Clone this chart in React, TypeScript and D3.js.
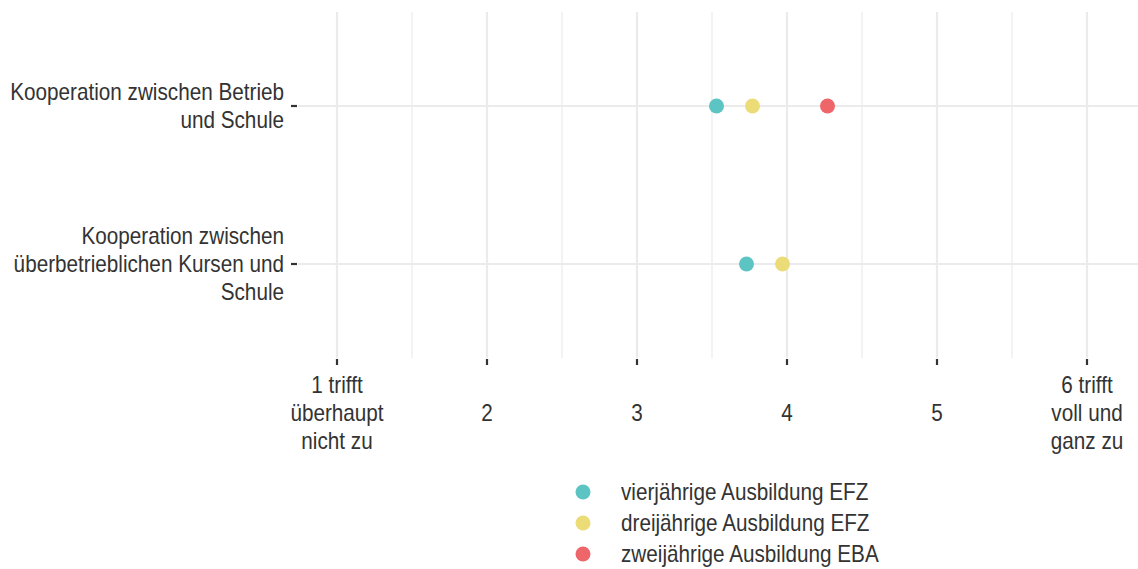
import React, { useEffect, useRef } from 'react';
import * as d3 from 'd3';

const items = [
  ['Kooperation zwischen Betrieb', 'und Schule'],
  ['Kooperation zwischen', 'überbetrieblichen Kursen und', 'Schule'],
];
const series = ['vierjährige Ausbildung EFZ', 'dreijährige Ausbildung EFZ', 'zweijährige Ausbildung EBA'];
const colors = ['#5dc4c4', '#ecdc78', '#ee6669'];
const values: (number | null)[][] = [
  [3.53, 3.77, 4.27],
  [3.73, 3.97, null],
];
const xTicks = [1, 2, 3, 4, 5, 6];
const xTickLabels = [['1 trifft', 'überhaupt', 'nicht zu'], ['2'], ['3'], ['4'], ['5'], ['6 trifft', 'voll und', 'ganz zu']];

const App: React.FC = () => {
  const svgRef = useRef<SVGSVGElement | null>(null);

  useEffect(() => {
    if (!svgRef.current) return;
    const width = 1138;
    const height = 569;
    const panel = { left: 298, right: 1138, top: 12, bottom: 358 };
    const font = '"Liberation Sans", Arial, sans-serif';
    const fs = 23;
    const sx = 0.9;

    const svg = d3.select(svgRef.current).attr('width', width).attr('height', height);
    svg.selectAll('*').remove();

    // multi-line text, slightly condensed like the original
    const addText = (g: any, x0: number, y0: number, lines: string[], anchor: string) => {
      const t = g.append('text')
        .attr('transform', `translate(${x0},0) scale(${sx},1)`)
        .attr('text-anchor', anchor)
        .attr('font-family', font).attr('font-size', fs).attr('fill', '#333');
      lines.forEach((l, j) => {
        t.append('tspan').attr('x', 0).attr('y', y0 + j * 28).text(l);
      });
    };

    const x = d3.scaleLinear().domain([1, 6]).range([337, 1087]);
    const y = d3.scalePoint<number>().domain([0, 1]).range([106, 264]);

    const grid = svg.append('g');
    const minor = d3.range(1.5, 7, 1).filter((d) => x(d) > panel.left && x(d) < panel.right);
    [...xTicks, ...minor].forEach((t) => {
      grid.append('line')
        .attr('x1', x(t)).attr('x2', x(t))
        .attr('y1', panel.top).attr('y2', panel.bottom)
        .attr('stroke', '#ebebeb').attr('stroke-width', xTicks.includes(t) ? 2.2 : 1.2);
    });
    items.forEach((_, i) => {
      grid.append('line')
        .attr('x1', panel.left).attr('x2', panel.right)
        .attr('y1', y(i)!).attr('y2', y(i)!)
        .attr('stroke', '#ebebeb').attr('stroke-width', 2.2);
    });

    // x axis ticks + labels
    const xa = svg.append('g');
    xTicks.forEach((t, i) => {
      xa.append('line')
        .attr('x1', x(t)).attr('x2', x(t))
        .attr('y1', panel.bottom + 1).attr('y2', panel.bottom + 7)
        .attr('stroke', '#333').attr('stroke-width', 2.2);
      const lines = xTickLabels[i];
      addText(xa, x(t), lines.length === 1 ? 421 : 393, lines, 'middle');
    });

    // y axis ticks + labels
    const ya = svg.append('g');
    items.forEach((lines, i) => {
      const cy = y(i)!;
      ya.append('line')
        .attr('x1', panel.left - 7).attr('x2', panel.left - 1)
        .attr('y1', cy).attr('y2', cy)
        .attr('stroke', '#333').attr('stroke-width', 2.2);
      addText(ya, 284, cy + 8 - ((lines.length - 1) * 28) / 2, lines, 'end');
    });

    // points
    values.forEach((row, i) => {
      row.forEach((v, k) => {
        if (v == null) return;
        svg.append('circle')
          .attr('cx', x(v)).attr('cy', y(i)!)
          .attr('r', 7.5).attr('fill', colors[k]);
      });
    });

    // legend
    const lg = svg.append('g');
    series.forEach((s, k) => {
      const ly = 492 + k * 31;
      lg.append('circle').attr('cx', 583).attr('cy', ly).attr('r', 7.5).attr('fill', colors[k]);
      addText(lg, 621, ly + 8, [s], 'start');
    });
  }, []);

  return <svg ref={svgRef} style={{ position: 'absolute', left: 0, top: 0 }}></svg>;
};

export default App;
